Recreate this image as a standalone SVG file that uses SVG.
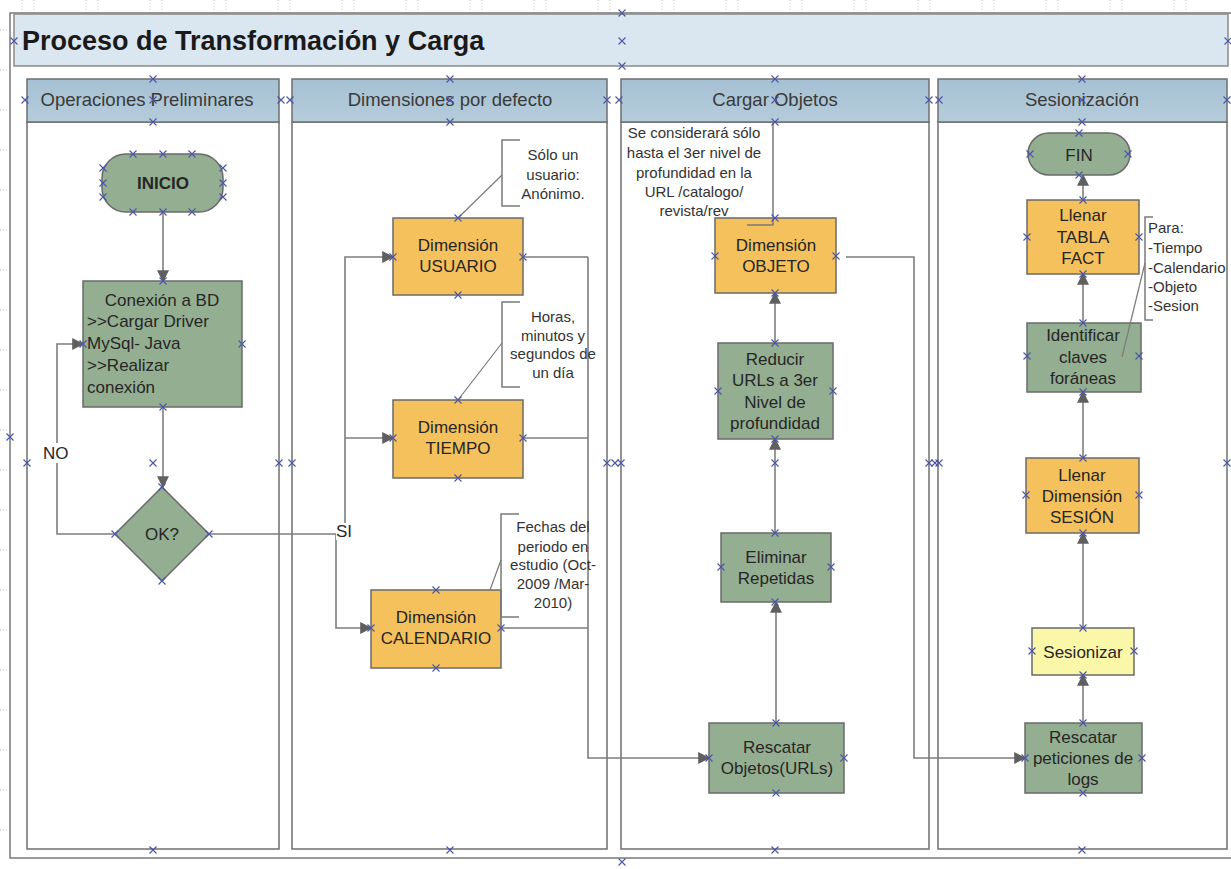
<svg xmlns="http://www.w3.org/2000/svg" xmlns:xlink="http://www.w3.org/1999/xlink" width="1231" height="869" viewBox="0 0 1231 869">
<defs>
<style>
.frame{fill:none;stroke:#7a7a7a;stroke-width:1.5}
.lane{fill:#ffffff;stroke:#6f6f6f;stroke-width:1.5}
.lhead{fill:url(#hg);stroke:#6f6f6f;stroke-width:1.5}
.hlabel{font-family:"Liberation Sans",Arial,sans-serif;font-size:18.5px;fill:#3a3a3a;text-anchor:middle}
.green{fill:#94ae91;stroke:#6a6a6a;stroke-width:1.5}
.orange{fill:#f5c15c;stroke:#6a6a6a;stroke-width:1.5}
.yellow{fill:#fbf7a8;stroke:#6a6a6a;stroke-width:1.5}
.t{font-family:"Liberation Sans",Arial,sans-serif;font-size:17px;fill:#262626;text-anchor:middle}
.tl{font-family:"Liberation Sans",Arial,sans-serif;font-size:17px;fill:#262626}
.note{font-family:"Liberation Sans",Arial,sans-serif;font-size:15px;fill:#333333;text-anchor:middle}
.notel{font-family:"Liberation Sans",Arial,sans-serif;font-size:15px;fill:#333333}
.conn{fill:none;stroke:#7e7e7e;stroke-width:1.6}
.arr{marker-end:url(#ah)}
.brk{fill:none;stroke:#7a7a7a;stroke-width:1.5}
.lead{fill:none;stroke:#7a7a7a;stroke-width:1.2}
.tick{stroke:#c4c4c4;stroke-width:1;stroke-dasharray:1 2}
.xm{fill:none;stroke:#4a55a8;stroke-width:1.1}
</style>
<linearGradient id="hg" x1="0" y1="0" x2="0" y2="1">
<stop offset="0" stop-color="#a6c1d4"/>
<stop offset="1" stop-color="#b5ccda"/>
</linearGradient>
<marker id="ah" markerUnits="userSpaceOnUse" markerWidth="12" markerHeight="12" viewBox="0 0 10 10" refX="9" refY="5" orient="auto">
<path d="M0,0 L10,5 L0,10 z" fill="#5f5f5f"/>
</marker>
<path id="x" class="xm" d="M-3.5,-3.5 L3.5,3.5 M-3.5,3.5 L3.5,-3.5"/>
</defs>

<g id="ruler">
<path class="tick" d="M22,0V10 M34,0V10 M86,0V10 M98,0V10 M150,0V10 M162,0V10 M214,0V10 M226,0V10 M278,0V10 M290,0V10 M342,0V10 M354,0V10 M406,0V10 M418,0V10 M470,0V10 M482,0V10 M534,0V10 M546,0V10 M598,0V10 M610,0V10 M662,0V10 M674,0V10 M726,0V10 M738,0V10 M790,0V10 M802,0V10 M854,0V10 M866,0V10 M918,0V10 M930,0V10 M982,0V10 M994,0V10 M1046,0V10 M1058,0V10 M1110,0V10 M1122,0V10 M1174,0V10 M1186,0V10"/>
<path class="tick" d="M0,30H7 M0,70H7 M0,110H7 M0,150H7 M0,190H7 M0,230H7 M0,270H7 M0,310H7 M0,350H7 M0,390H7 M0,430H7 M0,470H7 M0,510H7 M0,550H7 M0,590H7 M0,630H7 M0,670H7 M0,710H7 M0,750H7 M0,790H7 M0,830H7"/>
</g>

<g id="pool">
<path class="frame" d="M1231,13 H10 V858 H1231"/>
<rect x="14" y="14" width="1214" height="52" fill="#dae7f0" stroke="#8a8a8a" stroke-width="1.5"/>
<text x="22" y="50" font-family="'Liberation Sans',Arial,sans-serif" font-size="27" font-weight="bold" fill="#1a1a1a">Proceso de Transformación y Carga</text>
</g>

<g id="lane1">
<rect class="lane" x="27" y="122" width="252" height="727"/>
<rect class="lhead" x="27" y="79" width="252" height="43"/>
<text class="hlabel" x="147" y="106">Operaciones Preliminares</text>
</g>
<g id="lane2">
<rect class="lane" x="292" y="122" width="315" height="727"/>
<rect class="lhead" x="292" y="79" width="315" height="43"/>
<text class="hlabel" x="450" y="106">Dimensiones por defecto</text>
</g>
<g id="lane3">
<rect class="lane" x="621" y="122" width="308" height="727"/>
<rect class="lhead" x="621" y="79" width="308" height="43"/>
<text class="hlabel" x="775" y="106">Cargar Objetos</text>
</g>
<g id="lane4">
<rect class="lane" x="938" y="122" width="289" height="727"/>
<rect class="lhead" x="938" y="79" width="289" height="43"/>
<text class="hlabel" x="1082" y="106">Sesionización</text>
</g>

<g id="connectors">
<path class="conn arr" d="M163,212 V281"/>
<path class="conn arr" d="M163,407 V487"/>
<path class="conn arr" d="M115,534 H57 V344 H83"/>
<path class="conn arr" d="M209,534 H336 V628 H371"/>
<path class="conn arr" d="M345,523 V257 H393"/>
<path class="conn arr" d="M345,438 H393"/>
<path class="conn" d="M523,257 H588 M523,438 H588 M501,628 H588"/>
<path class="conn arr" d="M588,257 V758 H709"/>
<path class="conn arr" d="M776,723 V602"/>
<path class="conn arr" d="M775,533 V439"/>
<path class="conn arr" d="M775,343 V293"/>
<path class="conn arr" d="M846,257 H914 V758 H1025"/>
<path class="conn arr" d="M1083,723 V675"/>
<path class="conn arr" d="M1083,628 V533"/>
<path class="conn arr" d="M1083,458 V392"/>
<path class="conn arr" d="M1083,323 V274"/>
<path class="conn arr" d="M1083,200 V175"/>
<rect x="40" y="443" width="33" height="20" fill="#ffffff"/>
<text class="tl" x="43" y="459">NO</text>
<rect x="336" y="524" width="18" height="16" fill="#ffffff"/>
<text class="tl" x="336" y="537">SI</text>
</g>

<g id="n-inicio">
<rect class="green" x="102" y="154" width="121" height="58" rx="24"/>
<text class="t" x="163" y="189" font-weight="bold">INICIO</text>
</g>
<g id="n-conexion">
<rect class="green" x="83" y="281" width="159" height="126"/>
<text class="t" x="162" y="306">Conexión a BD</text>
<text class="tl" x="87" y="327">&gt;&gt;Cargar Driver</text>
<text class="tl" x="87" y="349">MySql- Java</text>
<text class="tl" x="87" y="371">&gt;&gt;Realizar</text>
<text class="tl" x="87" y="393">conexión</text>
</g>
<g id="n-ok">
<polygon class="green" points="162,487 209,534 162,581 115,534"/>
<text class="t" x="162" y="540">OK?</text>
</g>
<g id="n-usuario">
<rect class="orange" x="393" y="218" width="130" height="77"/>
<text class="t" x="458" y="251">Dimensión</text>
<text class="t" x="458" y="272">USUARIO</text>
</g>
<g id="n-tiempo">
<rect class="orange" x="393" y="400" width="130" height="78"/>
<text class="t" x="458" y="433">Dimensión</text>
<text class="t" x="458" y="454">TIEMPO</text>
</g>
<g id="n-calendario">
<rect class="orange" x="371" y="590" width="130" height="78"/>
<text class="t" x="436" y="623">Dimensión</text>
<text class="t" x="436" y="644">CALENDARIO</text>
</g>
<g id="n-objeto">
<rect class="orange" x="715" y="218" width="121" height="75"/>
<text class="t" x="776" y="251">Dimensión</text>
<text class="t" x="776" y="272">OBJETO</text>
</g>
<g id="n-reducir">
<rect class="green" x="718" y="343" width="115" height="96"/>
<text class="t" x="775" y="365">Reducir</text>
<text class="t" x="775" y="386">URLs a 3er</text>
<text class="t" x="775" y="408">Nivel de</text>
<text class="t" x="775" y="429">profundidad</text>
</g>
<g id="n-eliminar">
<rect class="green" x="721" y="533" width="110" height="69"/>
<text class="t" x="776" y="563">Eliminar</text>
<text class="t" x="776" y="584">Repetidas</text>
</g>
<g id="n-rescatar-obj">
<rect class="green" x="709" y="723" width="135" height="70"/>
<text class="t" x="777" y="753">Rescatar</text>
<text class="t" x="777" y="774">Objetos(URLs)</text>
</g>
<g id="n-fin">
<rect class="green" x="1028" y="133" width="102" height="42" rx="21"/>
<text class="t" x="1079" y="161">FIN</text>
</g>
<g id="n-tabla">
<rect class="orange" x="1027" y="200" width="112" height="74"/>
<text class="t" x="1083" y="221">Llenar</text>
<text class="t" x="1083" y="243">TABLA</text>
<text class="t" x="1083" y="264">FACT</text>
</g>
<g id="n-identificar">
<rect class="green" x="1027" y="323" width="114" height="69"/>
<text class="t" x="1083" y="341">Identificar</text>
<text class="t" x="1083" y="363">claves</text>
<text class="t" x="1083" y="384">foráneas</text>
</g>
<g id="n-sesion">
<rect class="orange" x="1026" y="458" width="113" height="75"/>
<text class="t" x="1082" y="481">Llenar</text>
<text class="t" x="1082" y="502">Dimensión</text>
<text class="t" x="1082" y="523">SESIÓN</text>
</g>
<g id="n-sesionizar">
<rect class="yellow" x="1032" y="628" width="102" height="47"/>
<text class="t" x="1083" y="658">Sesionizar</text>
</g>
<g id="n-rescatar-logs">
<rect class="green" x="1025" y="723" width="117" height="70"/>
<text class="t" x="1083" y="743">Rescatar</text>
<text class="t" x="1083" y="764">peticiones de</text>
<text class="t" x="1083" y="785">logs</text>
</g>

<g id="annotations">
<path class="brk" d="M520,140 H502 V206 H520"/>
<path class="lead" d="M502,175 L458,218"/>
<text class="note" x="553" y="160">Sólo un</text>
<text class="note" x="553" y="180">usuario:</text>
<text class="note" x="553" y="199">Anónimo.</text>

<path class="brk" d="M520,302 H502 V387 H520"/>
<path class="lead" d="M502,343 L458,400"/>
<text class="note" x="553" y="322">Horas,</text>
<text class="note" x="553" y="341">minutos y</text>
<text class="note" x="553" y="359">segundos de</text>
<text class="note" x="553" y="378">un día</text>

<path class="brk" d="M519,514 H501 V617 H519"/>
<path class="lead" d="M501,560 L490,590"/>
<text class="note" x="553" y="532">Fechas del</text>
<text class="note" x="553" y="552">periodo en</text>
<text class="note" x="553" y="570">estudio (Oct-</text>
<text class="note" x="553" y="589">2009 /Mar-</text>
<text class="note" x="553" y="608">2010)</text>

<path class="brk" d="M773,123 V225 H747"/>
<text class="note" x="694" y="138">Se considerará sólo</text>
<text class="note" x="694" y="158">hasta el 3er nivel de</text>
<text class="note" x="694" y="178">profundidad en la</text>
<text class="note" x="694" y="197">URL /catalogo/</text>
<text class="note" x="694" y="216">revista/rev</text>

<path class="brk" d="M1153,217 H1145 V320 H1153"/>
<path class="lead" d="M1145,263 L1122,357"/>
<text class="notel" x="1148" y="233">Para:</text>
<text class="notel" x="1148" y="253">-Tiempo</text>
<text class="notel" x="1148" y="273">-Calendario</text>
<text class="notel" x="1148" y="292">-Objeto</text>
<text class="notel" x="1148" y="311">-Sesion</text>
</g>

<g id="connection-points">
<use href="#x" x="14" y="41"/><use href="#x" x="622" y="13"/><use href="#x" x="622" y="41"/><use href="#x" x="622" y="66"/><use href="#x" x="1228" y="41"/>
<use href="#x" x="10" y="437"/><use href="#x" x="622" y="862"/>
<use href="#x" x="153" y="79"/><use href="#x" x="153" y="100"/><use href="#x" x="153" y="122"/><use href="#x" x="25" y="100"/><use href="#x" x="281" y="100"/>
<use href="#x" x="450" y="79"/><use href="#x" x="450" y="100"/><use href="#x" x="450" y="122"/><use href="#x" x="290" y="100"/><use href="#x" x="607" y="100"/>
<use href="#x" x="775" y="79"/><use href="#x" x="775" y="100"/><use href="#x" x="775" y="122"/><use href="#x" x="619" y="100"/><use href="#x" x="929" y="100"/>
<use href="#x" x="1082" y="79"/><use href="#x" x="1082" y="100"/><use href="#x" x="1082" y="122"/><use href="#x" x="939" y="100"/><use href="#x" x="1227" y="100"/>
<use href="#x" x="27" y="463"/><use href="#x" x="153" y="463"/><use href="#x" x="279" y="463"/><use href="#x" x="292" y="463"/><use href="#x" x="607" y="463"/><use href="#x" x="615" y="463"/>
<use href="#x" x="621" y="463"/><use href="#x" x="775" y="463"/><use href="#x" x="929" y="463"/><use href="#x" x="935" y="463"/><use href="#x" x="939" y="463"/><use href="#x" x="1227" y="463"/>
<use href="#x" x="153" y="850"/><use href="#x" x="450" y="850"/><use href="#x" x="775" y="850"/><use href="#x" x="1082" y="850"/>
<use href="#x" x="133" y="154"/><use href="#x" x="163" y="154"/><use href="#x" x="192" y="154"/><use href="#x" x="133" y="212"/><use href="#x" x="163" y="212"/><use href="#x" x="192" y="212"/>
<use href="#x" x="103" y="168"/><use href="#x" x="103" y="183"/><use href="#x" x="103" y="197"/><use href="#x" x="223" y="168"/><use href="#x" x="223" y="183"/><use href="#x" x="223" y="197"/>
<use href="#x" x="163" y="281"/><use href="#x" x="163" y="407"/><use href="#x" x="83" y="344"/><use href="#x" x="242" y="344"/>
<use href="#x" x="162" y="487"/><use href="#x" x="162" y="581"/><use href="#x" x="115" y="534"/><use href="#x" x="209" y="534"/>
<use href="#x" x="458" y="218"/><use href="#x" x="458" y="295"/><use href="#x" x="393" y="257"/><use href="#x" x="523" y="257"/>
<use href="#x" x="458" y="400"/><use href="#x" x="458" y="478"/><use href="#x" x="393" y="438"/><use href="#x" x="523" y="438"/>
<use href="#x" x="436" y="590"/><use href="#x" x="436" y="668"/><use href="#x" x="371" y="628"/><use href="#x" x="501" y="628"/>
<use href="#x" x="775" y="218"/><use href="#x" x="775" y="293"/><use href="#x" x="715" y="256"/><use href="#x" x="836" y="256"/>
<use href="#x" x="775" y="343"/><use href="#x" x="775" y="439"/><use href="#x" x="718" y="391"/><use href="#x" x="833" y="391"/>
<use href="#x" x="775" y="533"/><use href="#x" x="775" y="602"/><use href="#x" x="721" y="567"/><use href="#x" x="831" y="567"/>
<use href="#x" x="776" y="723"/><use href="#x" x="776" y="793"/><use href="#x" x="709" y="758"/><use href="#x" x="844" y="758"/>
<use href="#x" x="1079" y="133"/><use href="#x" x="1079" y="175"/><use href="#x" x="1030" y="154"/><use href="#x" x="1128" y="154"/>
<use href="#x" x="1083" y="200"/><use href="#x" x="1083" y="274"/><use href="#x" x="1027" y="237"/><use href="#x" x="1139" y="237"/>
<use href="#x" x="1083" y="323"/><use href="#x" x="1083" y="392"/><use href="#x" x="1027" y="356"/><use href="#x" x="1139" y="356"/>
<use href="#x" x="1083" y="458"/><use href="#x" x="1083" y="533"/><use href="#x" x="1026" y="495"/><use href="#x" x="1139" y="495"/>
<use href="#x" x="1083" y="628"/><use href="#x" x="1083" y="675"/><use href="#x" x="1032" y="651"/><use href="#x" x="1134" y="651"/>
<use href="#x" x="1083" y="723"/><use href="#x" x="1083" y="793"/><use href="#x" x="1025" y="758"/><use href="#x" x="1142" y="758"/>
</g>
</svg>
